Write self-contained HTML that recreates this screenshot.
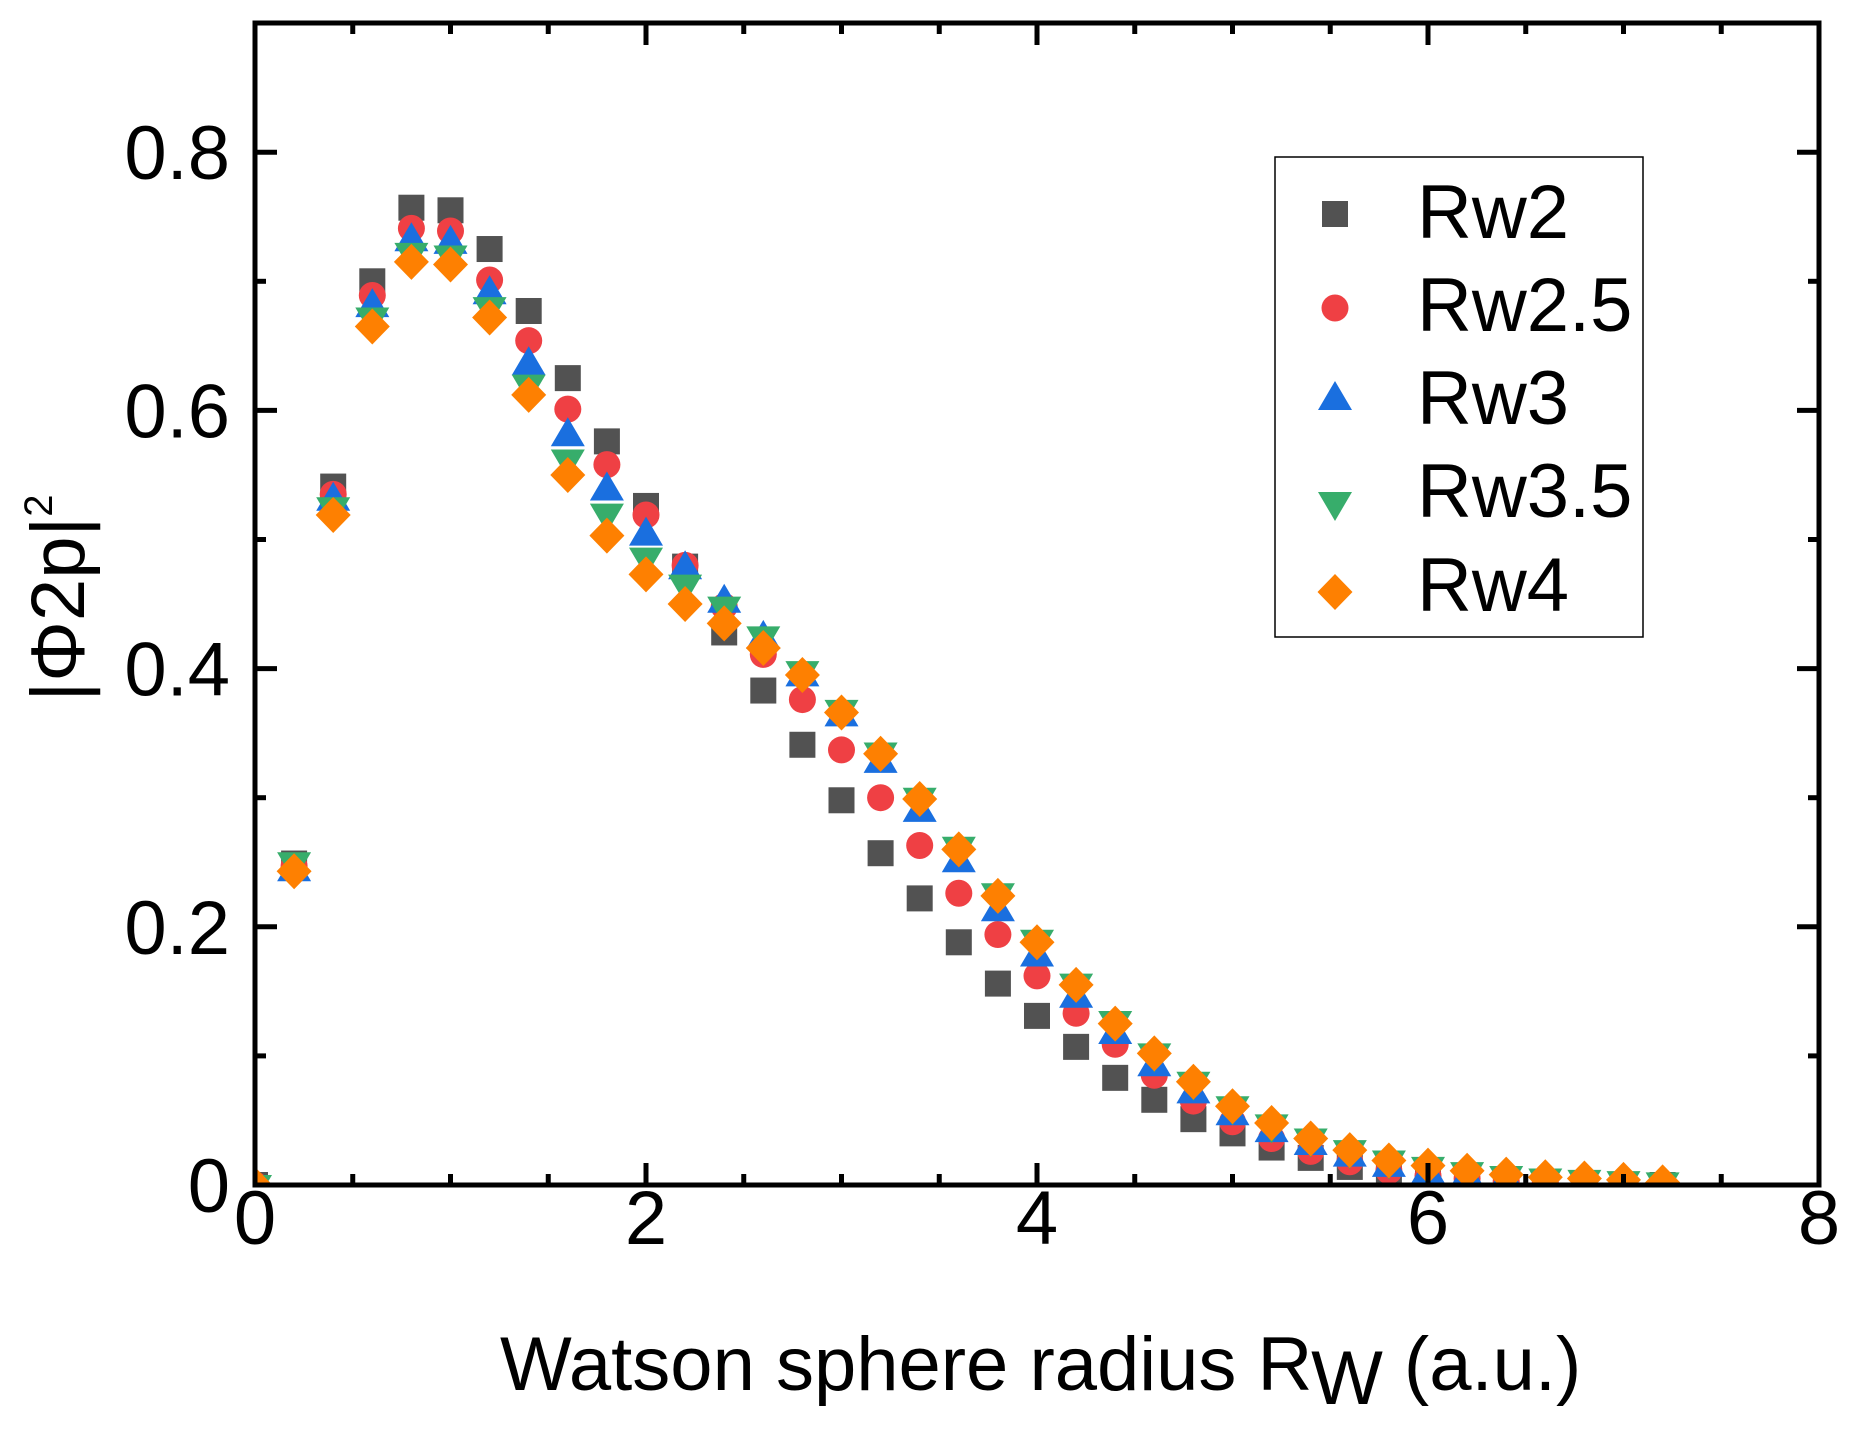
<!DOCTYPE html>
<html><head><meta charset="utf-8"><style>
html,body{margin:0;padding:0;background:#fff}
svg{display:block}
text{font-family:"Liberation Sans",Arial,sans-serif;fill:#000}
</style></head><body>
<svg id="s" width="1861" height="1431" xmlns="http://www.w3.org/2000/svg">
<defs><clipPath id="c"><rect x="255" y="23" width="1564" height="1162"/></clipPath></defs>
<g id="marks" clip-path="url(#c)"></g>
<g id="axes" stroke="#000" stroke-width="5" fill="none"></g>
<rect x="255" y="23" width="1564" height="1162" fill="none" stroke="#000" stroke-width="5"/>
<g id="labels" font-size="76"></g>
<rect x="1275" y="157" width="368" height="480" fill="#fff" stroke="#000" stroke-width="1.5"/>
<g id="leg"></g>
<g font-size="76">
<text x="1417" y="238">Rw2</text>
<text x="1417" y="331">Rw2.5</text>
<text x="1417" y="424">Rw3</text>
<text x="1417" y="517">Rw3.5</text>
<text x="1417" y="611">Rw4</text>
</g>
<text x="500" y="1390" font-size="76">Watson sphere radius R<tspan font-size="76" dy="14">W</tspan><tspan dy="-14"> (a.u.)</tspan></text>
<text transform="translate(84,598) rotate(-90)" text-anchor="middle" font-size="76">|Φ2p|<tspan font-size="40" dy="-32">2</tspan></text>
</svg>
<script>
var NS="http://www.w3.org/2000/svg";
function X(v){return 255+v*195.5}
function Y(v){return 1185-v*1291}
function el(t,a,p){var e=document.createElementNS(NS,t);for(var k in a)e.setAttribute(k,a[k]);p.appendChild(e);return e}
var ax=document.getElementById('axes'),lb=document.getElementById('labels');
for(var i=0;i<=16;i++){var x=X(i*0.5),L=(i%4==0)?22:11;if(i==0||i==16)continue;
 el('line',{x1:x,y1:1185,x2:x,y2:1185-L},ax);el('line',{x1:x,y1:23,x2:x,y2:23+L},ax);}
for(var i=1;i<=8;i++){var y=Y(i*0.1),L=(i%2==0)?22:11;
 el('line',{x1:255,y1:y,x2:255+L,y2:y},ax);el('line',{x1:1819,y1:y,x2:1819-L,y2:y},ax);}
for(var i=0;i<=4;i++){var t=el('text',{x:X(i*2),y:1244,'text-anchor':'middle'},lb);t.textContent=String(i*2);}
for(var i=0;i<=4;i++){var t=el('text',{x:230,y:Y(i*0.2)+27,'text-anchor':'end'},lb);t.textContent=i==0?'0':(i*0.2).toFixed(1);}
var d={
sq:[0,.249,.541,.70,.757,.755,.725,.677,.625,.576,.526,.479,.428,.383,.341,.298,.257,.222,.188,.156,.131,.107,.083,.066,.051,.040,.029,.021,.014,.008,.005,.003,.002,.001,.001,0,0],
ci:[0,.247,.535,.689,.741,.739,.701,.654,.601,.558,.519,.480,.448,.411,.376,.337,.300,.263,.226,.194,.162,.133,.109,.085,.065,.049,.036,.026,.018,.011,.007,.005,.003,.002,.001,.001,0],
tu:[0,.243,.53,.68,.731,.729,.69,.635,.58,.538,.503,.477,.451,.423,.394,.363,.327,.289,.250,.212,.177,.145,.117,.092,.071,.054,.041,.031,.022,.014,.009,.006,.004,.003,.002,.001,0],
td:[0,.25,.525,.672,.722,.72,.68,.62,.562,.52,.486,.465,.448,.425,.398,.368,.335,.3,.262,.226,.19,.156,.127,.102,.08,.061,.047,.036,.027,.019,.014,.01,.007,.005,.004,.003,.002],
di:[0,.243,.519,.665,.715,.713,.672,.612,.55,.503,.473,.45,.435,.416,.395,.366,.334,.299,.26,.224,.188,.155,.125,.102,.08,.061,.048,.036,.027,.019,.015,.011,.008,.006,.005,.004,.002]};
function mk(type,x,y,p){
 if(type=='sq')el('rect',{x:x-13,y:y-13,width:26,height:26,fill:'#525252'},p);
 else if(type=='ci')el('circle',{cx:x,cy:y,r:13.5,fill:'#ef4044'},p);
 else if(type=='tu')el('polygon',{points:(x-17)+','+(y+10)+' '+(x+17)+','+(y+10)+' '+x+','+(y-19),fill:'#1a6fdf'},p);
 else if(type=='td')el('polygon',{points:(x-17)+','+(y-10)+' '+(x+17)+','+(y-10)+' '+x+','+(y+19),fill:'#37ad6b'},p);
 else el('polygon',{points:(x-17.5)+','+y+' '+x+','+(y-18)+' '+(x+17.5)+','+y+' '+x+','+(y+18),fill:'#fe8001'},p);
}
var m=document.getElementById('marks');
['sq','ci','tu','td','di'].forEach(function(k){d[k].forEach(function(v,i){mk(k,X(i*0.2),Y(v),m)})});
var lg=document.getElementById('leg');
mk('sq',1335,214,lg);mk('ci',1335,308,lg);mk('tu',1335,400,lg);mk('td',1335,502,lg);mk('di',1335,592,lg);
</script>
</body></html>
